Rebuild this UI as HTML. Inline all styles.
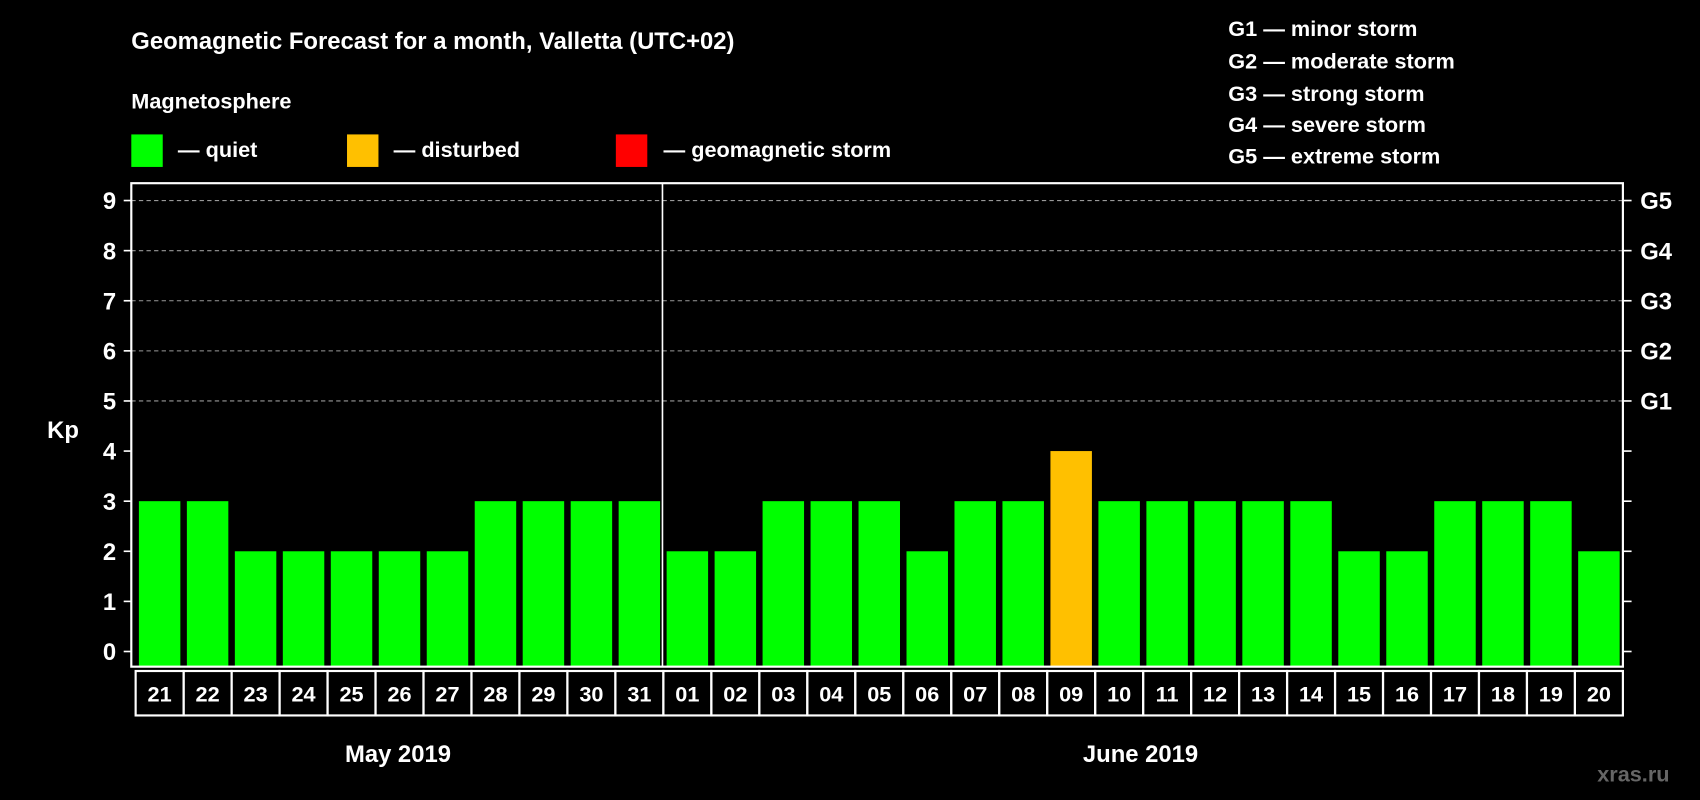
<!DOCTYPE html>
<html><head><meta charset="utf-8"><style>
html,body{margin:0;padding:0;background:#000;}
svg{display:block;font-family:"Liberation Sans",Arial,sans-serif;font-weight:bold;}
</style></head><body>
<svg id="chart" width="1700" height="800" viewBox="0 0 1568 738" xmlns="http://www.w3.org/2000/svg">
<rect width="1568" height="738" fill="#000"/>
<text x="121" y="45" fill="#fff" font-size="22">Geomagnetic Forecast for a month, Valletta (UTC+02)</text>
<text x="121" y="100" fill="#fff" font-size="20">Magnetosphere</text>
<rect x="121" y="124" width="29" height="30" fill="#00ff00"/>
<text x="164" y="145" fill="#fff" font-size="20">— quiet</text>
<rect x="320" y="124" width="29" height="30" fill="#ffc000"/>
<text x="363" y="145" fill="#fff" font-size="20">— disturbed</text>
<rect x="568" y="124" width="29" height="30" fill="#ff0000"/>
<text x="612" y="145" fill="#fff" font-size="20">— geomagnetic storm</text>
<g fill="#fff" font-size="20">
<text x="1133" y="33">G1 — minor storm</text>
<text x="1133" y="63">G2 — moderate storm</text>
<text x="1133" y="93">G3 — strong storm</text>
<text x="1133" y="122">G4 — severe storm</text>
<text x="1133" y="151">G5 — extreme storm</text>
</g>
<text x="58" y="404" fill="#fff" font-size="22" text-anchor="middle">Kp</text>
<g id="grid"></g>
<g id="bars"></g>
<rect x="121" y="169" width="1376" height="446" fill="none" stroke="#fff" stroke-width="2"/>
<line x1="611" y1="169" x2="611" y2="615" stroke="#fff" stroke-width="1.5"/>
<g id="dates"></g>
<text x="367" y="703" fill="#fff" font-size="22" text-anchor="middle">May 2019</text>
<text x="1052" y="703" fill="#fff" font-size="22" text-anchor="middle">June 2019</text>
<text x="1540" y="721" fill="#666" font-size="20" text-anchor="end">xras.ru</text>
</svg>
<script>
const days = ["21","22","23","24","25","26","27","28","29","30","31","01","02","03","04","05","06","07","08","09","10","11","12","13","14","15","16","17","18","19","20"];
const kpValues = [3,3,2,2,2,2,2,3,3,3,3,2,2,3,3,3,2,3,3,4,3,3,3,3,3,2,2,3,3,3,2];
const yTicks = [0,1,2,3,4,5,6,7,8,9];
const gLabels = ["G1","G2","G3","G4","G5"];
const gLevels = [5,6,7,8,9];

const NS="http://www.w3.org/2000/svg";
const plotL=121, plotR=1497, slotL=124, slotW=(1496-124)/31;
function y(v){return 601 - v*(601-185)/9;}
function x(i){return slotL + i*slotW;}
function mk(t,a,p){const e=document.createElementNS(NS,t);for(const k in a)e.setAttribute(k,a[k]);p.appendChild(e);return e;}
const grid=document.getElementById('grid'), bars=document.getElementById('bars'), dates=document.getElementById('dates');
yTicks.forEach(v=>{
  const t=mk('text',{x:107,y:y(v)+8,fill:'#fff','font-size':22,'text-anchor':'end'},grid);
  t.textContent=v;
  
  
  mk('line',{x1:114,x2:plotL,y1:y(v),y2:y(v),stroke:'#fff','stroke-width':1.5},grid);
  mk('line',{x1:plotR,x2:1505,y1:y(v),y2:y(v),stroke:'#fff','stroke-width':1.5},grid);
});
gLevels.forEach((v,i)=>{
  const l=mk('line',{x1:plotL,x2:plotR,y1:y(v),y2:y(v),stroke:'#999','stroke-width':1,'stroke-dasharray':'4,3'},grid);
  
  
  const t=mk('text',{x:1513,y:y(v)+8,fill:'#fff','font-size':22},grid);
  t.textContent=gLabels[i];
  
  
});
kpValues.forEach((v,i)=>{
  const col=v>=5?'#ff0000':(v>=4?'#ffc000':'#00ff00');
  const r=mk('rect',{x:x(i)+4,y:y(v),width:slotW-6,height:y(0)-y(v)+14,fill:col},bars);
  
  
  const b=mk('rect',{x:x(i)+1,y:619,width:slotW,height:41,fill:'none',stroke:'#fff','stroke-width':2},dates);
  
  
  const t=mk('text',{x:x(i)+1+slotW/2,y:647,fill:'#fff','font-size':20,'text-anchor':'middle'},dates);
  t.textContent=days[i];
  
  
});
</script>
</body></html>
